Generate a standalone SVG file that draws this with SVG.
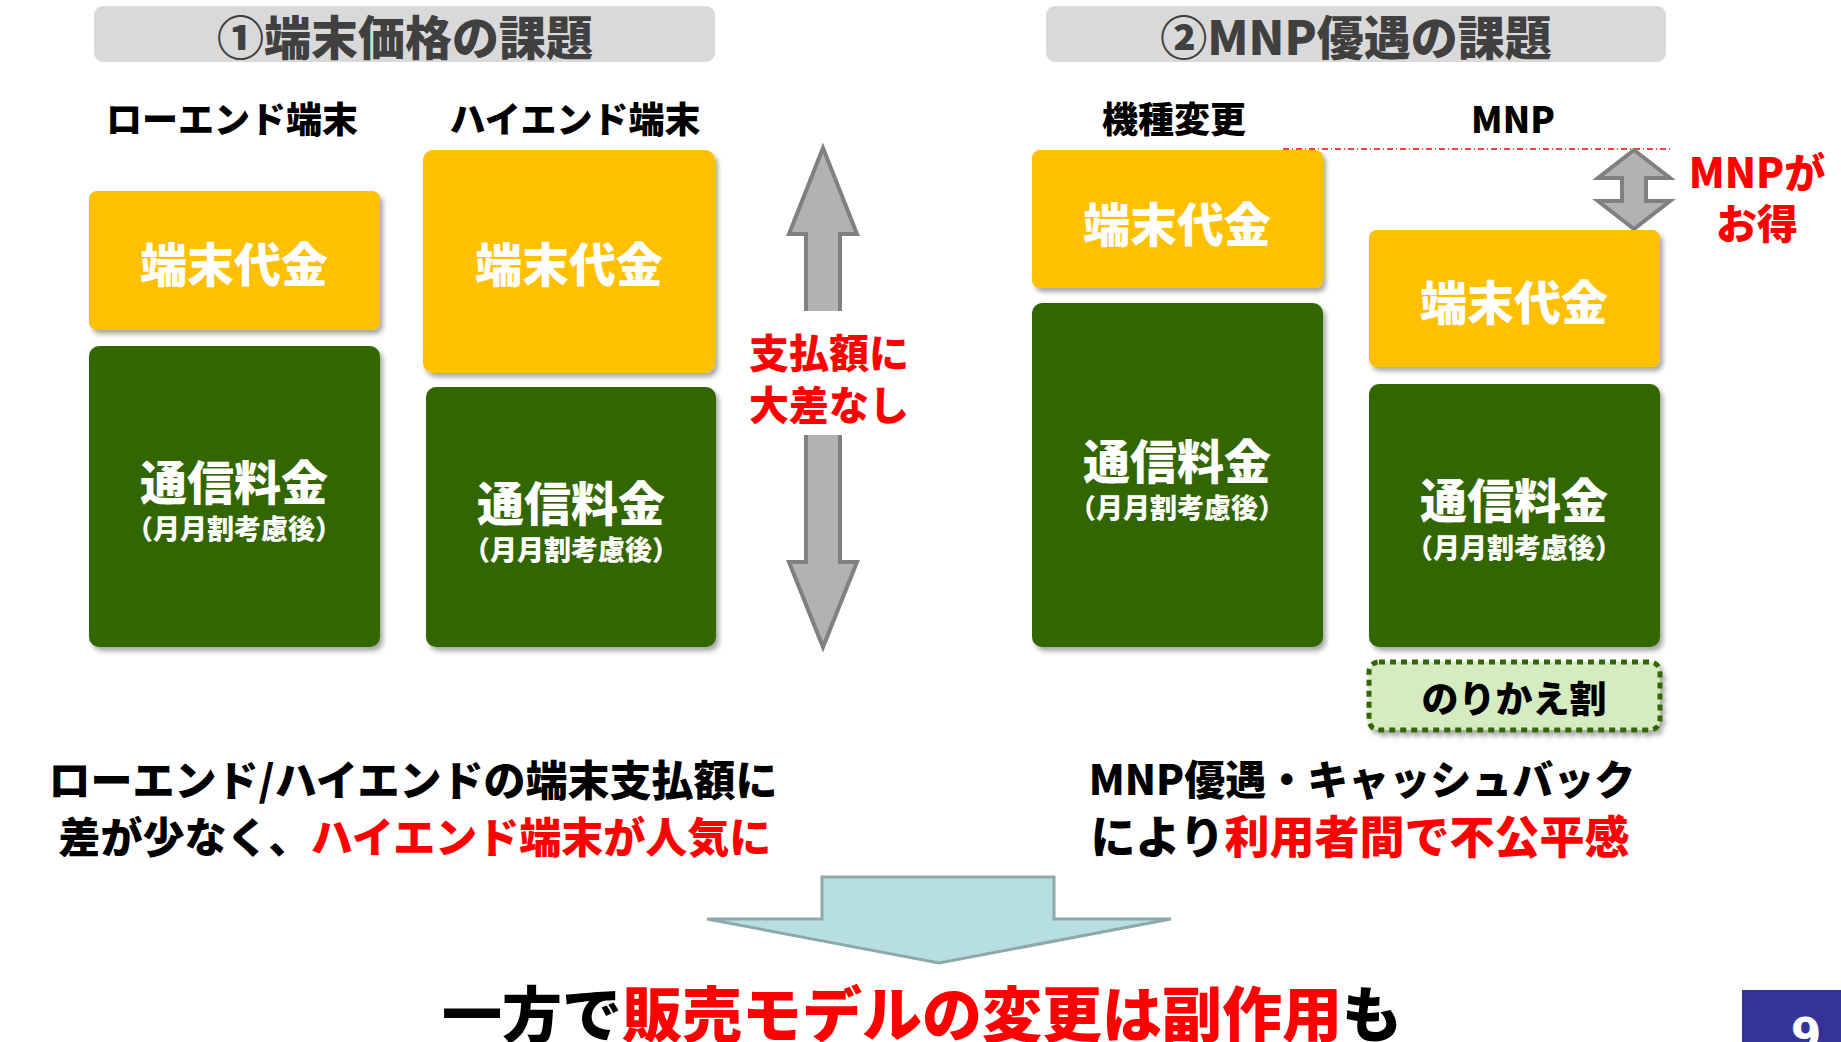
<svg xmlns="http://www.w3.org/2000/svg" width="1841" height="1042" viewBox="0 0 1841 1042">
<defs>
<filter id="sh" x="-10%" y="-10%" width="130%" height="130%">
<feDropShadow dx="3" dy="4" stdDeviation="2.5" flood-color="#000" flood-opacity="0.35"/>
</filter>
<style>
text{font-family:"Noto Sans CJK JP","Noto Sans",sans-serif;font-weight:900;text-anchor:middle;dominant-baseline:central}
.title{font-size:47px;fill:#404040}
.col{font-size:36px;fill:#000}
.yel{fill:#FFC000;filter:url(#sh)}
.grn{fill:#336600;filter:url(#sh)}
.big{font-size:47px;fill:#fff}
.sub{font-size:27px;fill:#fff}
.red{fill:#FF0000}
.msg{font-size:42px;fill:#000}
.gnd{stroke:#808080;stroke-width:7;filter:url(#sh)}
.garrow{fill:#B2B2B2;stroke:#808080;stroke-width:4;stroke-linejoin:miter}
</style>
</defs>
<rect width="1841" height="1042" fill="#fff"/>

<g id="title1"><rect x="94" y="6" width="621" height="56" rx="9" fill="#D9D9D9"/><text class="title" x="405" y="34">①端末価格の課題</text></g>
<g id="title2"><rect x="1046" y="6" width="620" height="56" rx="9" fill="#D9D9D9"/><text class="title" x="1356" y="34">②MNP優遇の課題</text></g>

<g id="label-lowend"><text class="col" x="232" y="117">ローエンド端末</text></g>
<g id="label-highend"><text class="col" x="575" y="117">ハイエンド端末</text></g>
<g id="label-kishu"><text class="col" x="1174" y="117">機種変更</text></g>
<g id="label-mnp"><text class="col" x="1513" y="117">MNP</text></g>

<g id="connectors">
<line class="gnd" x1="9" y1="650" x2="909" y2="650"/>
<line class="gnd" x1="942" y1="650" x2="1841" y2="650"/>
<polygon class="garrow" points="823,148 857,234 840,234 840,562 857,562 823,647 789,562 806,562 806,234 789,234"/>
<rect x="760" y="311" width="140" height="124" fill="#fff"/>
<line x1="1283" y1="149" x2="1673" y2="149" stroke="#FF0000" stroke-width="1.5" stroke-dasharray="6 3 1 3"/>
<polygon class="garrow" points="1634,150 1670,178 1646,178 1646,201 1670,201 1634,229 1598,201 1622,201 1622,178 1598,178"/>
<polygon points="822,877 1054,877 1054,919 1171,919 939,963 707,919 822,919" fill="#B7DEE1" stroke="#8FA9AB" stroke-width="3"/>
</g>

<g id="low-device"><rect class="yel" x="89" y="191" width="291" height="139" rx="8"/><text class="big" x="234" y="261">端末代金</text></g>
<g id="low-fee"><rect class="grn" x="89" y="346" width="291" height="301" rx="10"/><text class="big" x="234" y="479">通信料金</text><text class="sub" x="234" y="527">（月月割考慮後）</text></g>
<g id="high-device"><rect class="yel" x="423" y="150" width="292" height="223" rx="10"/><text class="big" x="569" y="261">端末代金</text></g>
<g id="high-fee"><rect class="grn" x="426" y="387" width="290" height="260" rx="10"/><text class="big" x="571" y="500">通信料金</text><text class="sub" x="571" y="548">（月月割考慮後）</text></g>

<g id="note-nosa"><text class="red" style="font-size:40px" x="829" y="351">支払額に</text><text class="red" style="font-size:40px" x="829" y="403">大差なし</text></g>

<g id="kishu-device"><rect class="yel" x="1032" y="150" width="291" height="138" rx="8"/><text class="big" x="1177" y="221">端末代金</text></g>
<g id="kishu-fee"><rect class="grn" x="1032" y="303" width="291" height="344" rx="10"/><text class="big" x="1177" y="458">通信料金</text><text class="sub" x="1177" y="506">（月月割考慮後）</text></g>
<g id="mnp-device"><rect class="yel" x="1369" y="230" width="291" height="137" rx="8"/><text class="big" x="1514" y="299">端末代金</text></g>
<g id="mnp-fee"><rect class="grn" x="1369" y="384" width="291" height="263" rx="10"/><text class="big" x="1514" y="497">通信料金</text><text class="sub" x="1514" y="546">（月月割考慮後）</text></g>

<g id="note-mnp"><text class="red" style="font-size:41px" x="1757" y="170">MNPが</text><text class="red" style="font-size:41px" x="1757" y="221">お得</text></g>

<g id="norikae"><rect x="1369" y="662" width="291" height="68" rx="10" fill="#D5EBC0" stroke="#336600" stroke-width="5" stroke-dasharray="6 5" filter="url(#sh)"/><text x="1514" y="697" style="font-size:37px;fill:#000">のりかえ割</text></g>

<g id="msg-left"><text class="msg" x="413" y="777">ローエンド/ハイエンドの端末支払額に</text><text class="msg" x="415" y="834">差が少なく、<tspan class="red">ハイエンド端末が人気に</tspan></text></g>
<g id="msg-right"><text class="msg" x="1362" y="777" style="font-size:41px">MNP優遇・キャッシュバック</text><text class="msg" x="1360" y="834" style="font-size:45px">により<tspan class="red">利用者間で不公平感</tspan></text></g>

<g id="conclusion"><text x="922" y="1010" style="font-size:60px;fill:#000">一方で<tspan class="red">販売モデルの変更は副作用</tspan>も</text></g>

<g id="page"><rect x="1742" y="990" width="99" height="52" fill="#333399"/><text x="1806" y="1050" style="font-family:'DejaVu Sans',sans-serif;font-weight:bold;font-size:44px;fill:#fff;dominant-baseline:alphabetic">9</text></g>
</svg>
